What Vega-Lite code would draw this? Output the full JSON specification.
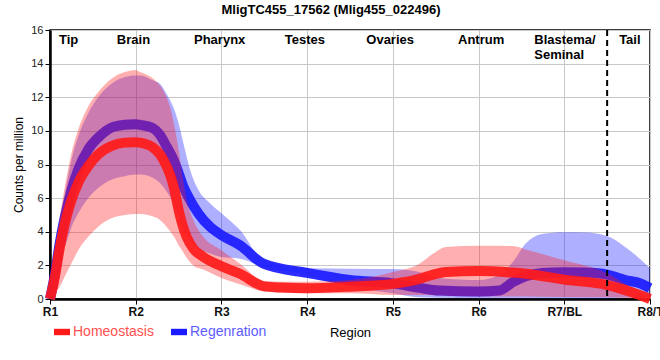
{
  "$schema": "https://vega.github.io/schema/vega-lite/v6.json",
  "width": 600,
  "height": 269,
  "autosize": "none",
  "padding": {"left": 50, "top": 30, "right": 10, "bottom": 61},
  "title": {"text": "MligTC455_17562 (Mlig455_022496)", "fontSize": 13, "fontWeight": "bold", "font": "Liberation Sans", "color": "#000", "anchor": "middle", "frame": "group", "dx": -19, "offset": 7},
  "config": {
    "view": {"stroke": "#000", "strokeWidth": 1.5},
    "font": "Liberation Sans"
  },
  "datasets": {
    "curves": [
      {"s": "Homeostasis", "x": 1.0, "m": 0, "lo": 0, "hi": 0},
      {"s": "Homeostasis", "x": 1.058, "m": 1.35, "lo": 0.36, "hi": 2.7},
      {"s": "Homeostasis", "x": 1.116, "m": 3.1, "lo": 0.75, "hi": 4.9},
      {"s": "Homeostasis", "x": 1.174, "m": 4.5, "lo": 1.35, "hi": 6.7},
      {"s": "Homeostasis", "x": 1.252, "m": 5.9, "lo": 2.14, "hi": 8.7},
      {"s": "Homeostasis", "x": 1.329, "m": 6.9, "lo": 2.9, "hi": 10.06},
      {"s": "Homeostasis", "x": 1.446, "m": 7.9, "lo": 3.7, "hi": 11.45},
      {"s": "Homeostasis", "x": 1.562, "m": 8.6, "lo": 4.3, "hi": 12.3},
      {"s": "Homeostasis", "x": 1.717, "m": 9.1, "lo": 4.8, "hi": 13.1},
      {"s": "Homeostasis", "x": 1.872, "m": 9.3, "lo": 5.0, "hi": 13.5},
      {"s": "Homeostasis", "x": 2.0, "m": 9.33, "lo": 5.05, "hi": 13.6},
      {"s": "Homeostasis", "x": 2.05, "m": 9.3, "lo": 5.05, "hi": 13.5},
      {"s": "Homeostasis", "x": 2.205, "m": 9.0, "lo": 4.9, "hi": 13.1},
      {"s": "Homeostasis", "x": 2.283, "m": 8.6, "lo": 4.7, "hi": 12.7},
      {"s": "Homeostasis", "x": 2.36, "m": 7.9, "lo": 4.3, "hi": 12.0},
      {"s": "Homeostasis", "x": 2.42, "m": 7.1, "lo": 3.9, "hi": 11.05},
      {"s": "Homeostasis", "x": 2.46, "m": 6.3, "lo": 3.6, "hi": 10.06},
      {"s": "Homeostasis", "x": 2.5, "m": 5.3, "lo": 3.2, "hi": 8.9},
      {"s": "Homeostasis", "x": 2.54, "m": 4.5, "lo": 2.9, "hi": 7.5},
      {"s": "Homeostasis", "x": 2.594, "m": 3.7, "lo": 2.45, "hi": 5.9},
      {"s": "Homeostasis", "x": 2.672, "m": 3.0, "lo": 2.0, "hi": 4.7},
      {"s": "Homeostasis", "x": 2.789, "m": 2.5, "lo": 1.75, "hi": 3.7},
      {"s": "Homeostasis", "x": 3.0, "m": 1.95, "lo": 1.25, "hi": 2.9},
      {"s": "Homeostasis", "x": 3.216, "m": 1.5, "lo": 0.88, "hi": 2.1},
      {"s": "Homeostasis", "x": 3.5, "m": 0.75, "lo": 0.44, "hi": 1.07},
      {"s": "Homeostasis", "x": 3.7, "m": 0.68, "lo": 0.38, "hi": 1.03},
      {"s": "Homeostasis", "x": 4.0, "m": 0.64, "lo": 0.34, "hi": 1.03},
      {"s": "Homeostasis", "x": 4.5, "m": 0.73, "lo": 0.34, "hi": 1.13},
      {"s": "Homeostasis", "x": 5.0, "m": 0.9, "lo": 0.24, "hi": 1.6},
      {"s": "Homeostasis", "x": 5.31, "m": 1.2, "lo": 0.24, "hi": 2.1},
      {"s": "Homeostasis", "x": 5.47, "m": 1.45, "lo": 0.22, "hi": 2.7},
      {"s": "Homeostasis", "x": 5.62, "m": 1.6, "lo": 0.2, "hi": 3.1},
      {"s": "Homeostasis", "x": 6.0, "m": 1.67, "lo": 0.15, "hi": 3.17},
      {"s": "Homeostasis", "x": 6.4, "m": 1.57, "lo": 0.15, "hi": 3.15},
      {"s": "Homeostasis", "x": 6.55, "m": 1.5, "lo": 0.15, "hi": 2.95},
      {"s": "Homeostasis", "x": 7.0, "m": 1.15, "lo": 0.12, "hi": 2.3},
      {"s": "Homeostasis", "x": 7.5, "m": 0.83, "lo": 0.1, "hi": 1.53},
      {"s": "Homeostasis", "x": 7.79, "m": 0.4, "lo": 0.05, "hi": 0.64},
      {"s": "Homeostasis", "x": 8.0, "m": 0.0, "lo": 0, "hi": 0},
      {"s": "Regenration", "x": 1.0, "m": 0, "lo": 0, "hi": 0},
      {"s": "Regenration", "x": 1.058, "m": 1.5, "lo": 0.9, "hi": 2.4},
      {"s": "Regenration", "x": 1.116, "m": 3.4, "lo": 2.3, "hi": 4.5},
      {"s": "Regenration", "x": 1.174, "m": 4.9, "lo": 3.1, "hi": 6.3},
      {"s": "Regenration", "x": 1.252, "m": 6.5, "lo": 4.3, "hi": 8.3},
      {"s": "Regenration", "x": 1.329, "m": 7.7, "lo": 5.1, "hi": 9.66},
      {"s": "Regenration", "x": 1.446, "m": 8.9, "lo": 6.0, "hi": 11.05},
      {"s": "Regenration", "x": 1.562, "m": 9.6, "lo": 6.6, "hi": 12.0},
      {"s": "Regenration", "x": 1.717, "m": 10.2, "lo": 7.1, "hi": 12.8},
      {"s": "Regenration", "x": 1.872, "m": 10.36, "lo": 7.3, "hi": 13.2},
      {"s": "Regenration", "x": 2.0, "m": 10.4, "lo": 7.4, "hi": 13.3},
      {"s": "Regenration", "x": 2.05, "m": 10.36, "lo": 7.4, "hi": 13.3},
      {"s": "Regenration", "x": 2.205, "m": 10.15, "lo": 7.2, "hi": 13.0},
      {"s": "Regenration", "x": 2.283, "m": 9.76, "lo": 6.9, "hi": 12.8},
      {"s": "Regenration", "x": 2.36, "m": 9.07, "lo": 6.4, "hi": 12.2},
      {"s": "Regenration", "x": 2.44, "m": 8.3, "lo": 5.7, "hi": 11.4},
      {"s": "Regenration", "x": 2.5, "m": 7.5, "lo": 4.9, "hi": 10.45},
      {"s": "Regenration", "x": 2.555, "m": 6.7, "lo": 4.1, "hi": 9.3},
      {"s": "Regenration", "x": 2.633, "m": 5.9, "lo": 3.5, "hi": 7.7},
      {"s": "Regenration", "x": 2.73, "m": 5.1, "lo": 3.0, "hi": 6.5},
      {"s": "Regenration", "x": 2.866, "m": 4.3, "lo": 2.7, "hi": 5.7},
      {"s": "Regenration", "x": 3.0, "m": 3.8, "lo": 2.5, "hi": 5.1},
      {"s": "Regenration", "x": 3.216, "m": 3.2, "lo": 2.4, "hi": 4.1},
      {"s": "Regenration", "x": 3.49, "m": 2.1, "lo": 1.9, "hi": 2.3},
      {"s": "Regenration", "x": 4.0, "m": 1.55, "lo": 1.43, "hi": 1.83},
      {"s": "Regenration", "x": 4.5, "m": 1.13, "lo": 0.73, "hi": 1.8},
      {"s": "Regenration", "x": 5.0, "m": 0.93, "lo": 0.34, "hi": 1.78},
      {"s": "Regenration", "x": 5.31, "m": 0.66, "lo": 0.1, "hi": 1.6},
      {"s": "Regenration", "x": 5.54, "m": 0.5, "lo": 0.08, "hi": 1.25},
      {"s": "Regenration", "x": 6.0, "m": 0.44, "lo": 0.05, "hi": 1.13},
      {"s": "Regenration", "x": 6.24, "m": 0.5, "lo": 0.05, "hi": 1.43},
      {"s": "Regenration", "x": 6.4, "m": 1.0, "lo": 0.05, "hi": 2.2},
      {"s": "Regenration", "x": 6.55, "m": 1.35, "lo": 0.05, "hi": 3.3},
      {"s": "Regenration", "x": 6.74, "m": 1.55, "lo": 0.05, "hi": 3.87},
      {"s": "Regenration", "x": 7.0, "m": 1.59, "lo": 0.05, "hi": 3.97},
      {"s": "Regenration", "x": 7.25, "m": 1.57, "lo": 0.05, "hi": 3.95},
      {"s": "Regenration", "x": 7.5, "m": 1.45, "lo": 0.05, "hi": 3.75},
      {"s": "Regenration", "x": 7.71, "m": 1.13, "lo": 0.07, "hi": 3.1},
      {"s": "Regenration", "x": 7.9, "m": 0.9, "lo": 0.1, "hi": 2.3},
      {"s": "Regenration", "x": 8.0, "m": 0.64, "lo": 0.1, "hi": 1.83}
    ],
    "regions": [
      {"label": "Tip", "x": 1.105},
      {"label": "Brain", "x": 1.78},
      {"label": "Pharynx", "x": 2.68},
      {"label": "Testes", "x": 3.74},
      {"label": "Ovaries", "x": 4.69},
      {"label": "Antrum", "x": 5.76},
      {"label": "Blastema/\nSeminal", "x": 6.65},
      {"label": "Tail", "x": 7.64}
    ],
    "boundary": [{"x": 7.5}]
  },
  "layer": [
    {
      "data": {"name": "curves"},
      "transform": [{"filter": "datum.s === 'Regenration'"}],
      "mark": {"type": "area", "interpolate": "monotone", "opacity": 0.35},
      "encoding": {
        "x": {"field": "x", "type": "quantitative", "scale": {"domain": [1, 8], "nice": false, "zero": false},
          "axis": {"values": [1, 2, 3, 4, 5, 6, 7, 8], "tickCount": 20, "labelExpr": "['R1','R2','R3','R4','R5','R6','R7/BL','R8/T'][datum.value - 1]",
            "title": "Region", "titleFontSize": 13, "titleFontWeight": "normal", "titleColor": "#000", "titlePadding": 9,
            "labelFontSize": 12, "labelFontWeight": "bold", "labelColor": "#111", "labelPadding": 2,
            "domainColor": "#000", "domainWidth": 2.5, "tickColor": "#000", "tickSize": 5, "tickWidth": 1,
            "gridColor": "#c8c8c8", "gridWidth": 1, "labelFlush": false, "labelOverlap": false}},
        "y": {"field": "lo", "type": "quantitative", "scale": {"domain": [0, 16], "nice": false},
          "axis": {"values": [0, 2, 4, 6, 8, 10, 12, 14, 16], "tickCount": 12, "title": "Counts per million", "titleFontSize": 12, "titleFontWeight": "normal", "titleColor": "#000", "titlePadding": 5,
            "labelFontSize": 11, "labelColor": "#222", "labelPadding": 2, "labelOverlap": false, "labelFlush": false,
            "domainColor": "#000", "domainWidth": 2.5, "tickColor": "#000", "tickSize": 5,
            "gridColor": "#c8c8c8", "gridWidth": 1}},
        "y2": {"field": "hi"},
        "color": {"field": "s", "type": "nominal", "title": null,
          "scale": {"domain": ["Homeostasis", "Regenration"], "range": ["#ff1a1a", "#1a1aff"]},
          "legend": {"orient": "none", "legendX": 4, "legendY": 294, "direction": "horizontal", "padding": 0,
            "labelFontSize": 14, "labelOffset": 3, "columnPadding": 17,
            "symbolType": "M-1,-0.4L1,-0.4L1,0.4L-1,0.4Z", "symbolSize": 256, "symbolOpacity": 1, "symbolStrokeWidth": 0,
            "encode": {
              "symbols": {"update": {"fill": {"scale": "color", "field": "value"}, "strokeWidth": {"value": 0}, "opacity": {"value": 1}}},
              "labels": {"update": {"fill": {"signal": "datum.value === 'Homeostasis' ? '#ff5050' : '#5c5cff'"}}}
            }}}
      }
    },
    {
      "data": {"name": "curves"},
      "transform": [{"filter": "datum.s === 'Regenration'"}],
      "mark": {"type": "line", "interpolate": "monotone", "strokeWidth": 10, "opacity": 0.92},
      "encoding": {
        "x": {"field": "x", "type": "quantitative"},
        "y": {"field": "m", "type": "quantitative"},
        "color": {"field": "s", "type": "nominal"}
      }
    },
    {
      "data": {"name": "curves"},
      "transform": [{"filter": "datum.s === 'Homeostasis'"}],
      "mark": {"type": "area", "interpolate": "monotone", "opacity": 0.35},
      "encoding": {
        "x": {"field": "x", "type": "quantitative"},
        "y": {"field": "lo", "type": "quantitative"},
        "y2": {"field": "hi"},
        "color": {"field": "s", "type": "nominal"}
      }
    },
    {
      "data": {"name": "curves"},
      "transform": [{"filter": "datum.s === 'Homeostasis'"}],
      "mark": {"type": "line", "interpolate": "monotone", "strokeWidth": 10, "opacity": 0.92},
      "encoding": {
        "x": {"field": "x", "type": "quantitative"},
        "y": {"field": "m", "type": "quantitative"},
        "color": {"field": "s", "type": "nominal"}
      }
    },
    {
      "data": {"name": "boundary"},
      "mark": {"type": "rule", "color": "#000", "strokeWidth": 2, "strokeDash": [6, 4]},
      "encoding": {
        "x": {"field": "x", "type": "quantitative"}
      }
    },
    {
      "data": {"name": "regions"},
      "mark": {"type": "text", "align": "left", "baseline": "top", "fontSize": 13, "fontWeight": "bold", "color": "#000", "lineBreak": "\n", "lineHeight": 14.5},
      "encoding": {
        "x": {"field": "x", "type": "quantitative"},
        "y": {"datum": 15.75},
        "text": {"field": "label"}
      }
    }
  ]
}
